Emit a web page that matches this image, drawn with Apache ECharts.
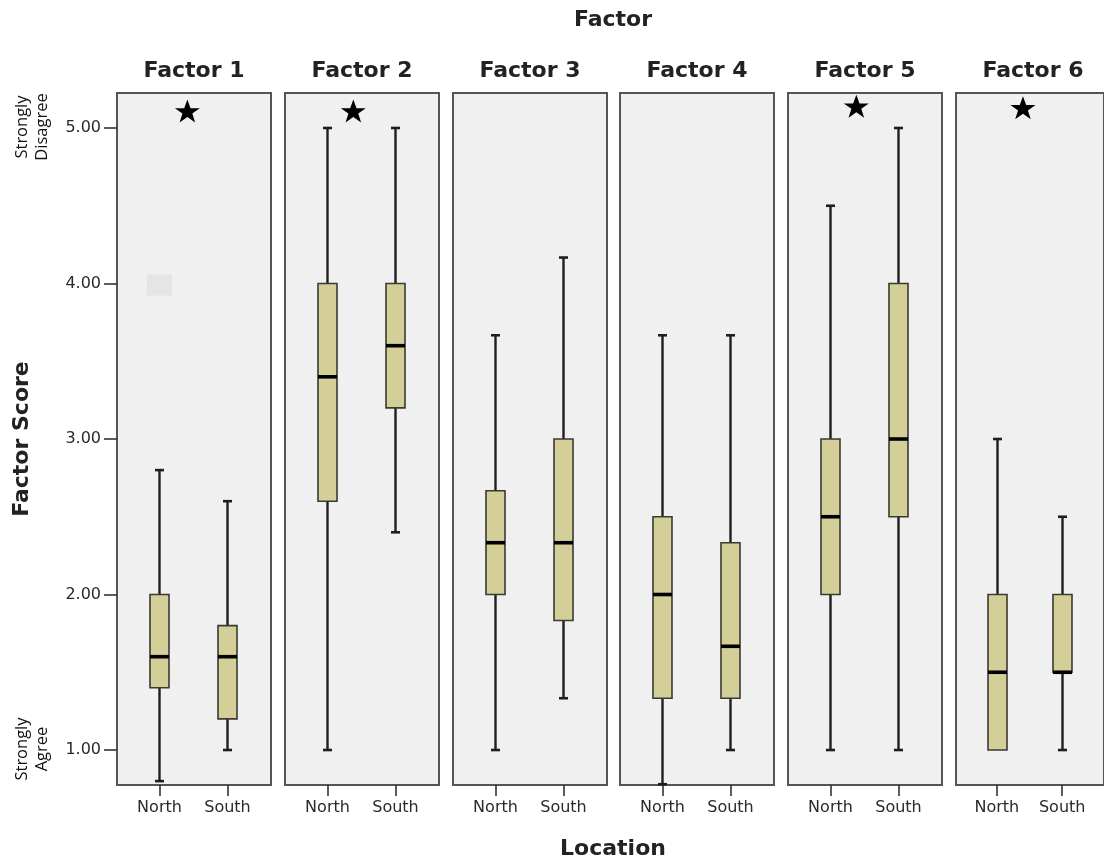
<!DOCTYPE html>
<html><head><meta charset="utf-8">
<script src="https://cdn.jsdelivr.net/npm/echarts@6/dist/echarts.min.js"></script>
<style>html,body{margin:0;padding:0;background:#fff}#c{width:1104px;height:861px}</style>
</head><body><div id="c"></div>
<script>
// ---------- data ----------
const factors = ['Factor 1', 'Factor 2', 'Factor 3', 'Factor 4', 'Factor 5', 'Factor 6'];
const locations = ['North', 'South'];
const yTickValues = [1, 2, 3, 4, 5];
// [min, Q1, median, Q3, max] per factor
const northStats = [
  [0.80, 1.40, 1.60, 2.00, 2.80],
  [1.00, 2.60, 3.40, 4.00, 5.00],
  [1.00, 2.00, 2.333, 2.667, 3.667],
  [0.78, 1.333, 2.00, 2.50, 3.667],
  [1.00, 2.00, 2.50, 3.00, 4.50],
  [1.00, 1.00, 1.50, 2.00, 3.00]
];
const southStats = [
  [1.00, 1.20, 1.60, 1.80, 2.60],
  [2.40, 3.20, 3.60, 4.00, 5.00],
  [1.333, 1.833, 2.333, 3.00, 4.167],
  [1.00, 1.333, 1.667, 2.333, 3.667],
  [1.00, 2.50, 3.00, 4.00, 5.00],
  [1.00, 1.50, 1.50, 2.00, 2.50]
];
// significance stars: [factor index, x (location units), y (score)]
const starMarks = [[0, 0.41, 5.11], [1, 0.38, 5.11], [4, 0.38, 5.14], [5, 0.40, 5.13]];
// faint grey marker in Factor 1 (blanked outlier)
const faintMarks = [[0, 0, 3.99]];

// ---------- layout ----------
const panelLeft0 = 117, panelStep = 167.8, panelW = 154, panelTop = 93, panelH = 692;
const xMin = -0.625, xMax = 1.64, yMin = 0.775, yMax = 5.225;
const STAR = 'path://M12,0 L14.9,8.1 L23.4,8.1 L16.5,13.1 L19.1,21.3 L12,16.3 L4.9,21.3 L7.5,13.1 L0.6,8.1 L9.1,8.1 Z';

function renderBox(params, api) {
  const x = api.value(0);
  const pMin = api.coord([x, api.value(1)]);
  const pQ1 = api.coord([x, api.value(2)]);
  const pMed = api.coord([x, api.value(3)]);
  const pQ3 = api.coord([x, api.value(4)]);
  const pMax = api.coord([x, api.value(5)]);
  const cx = Math.round(pMed[0]) + 0.5;
  const bw = 19, cw = 9;
  const ws = { stroke: '#1e1e1e', lineWidth: 2.4 };
  const children = [
    { type: 'line', shape: { x1: cx, y1: pMin[1], x2: cx, y2: pQ1[1] }, style: ws },
    { type: 'line', shape: { x1: cx, y1: pQ3[1], x2: cx, y2: pMax[1] }, style: ws }
  ];
  if (Math.abs(pMin[1] - pQ1[1]) > 1) {
    children.push({ type: 'line', shape: { x1: cx - cw / 2, y1: pMin[1], x2: cx + cw / 2, y2: pMin[1] }, style: { stroke: '#1e1e1e', lineWidth: 2.6 } });
  }
  if (Math.abs(pMax[1] - pQ3[1]) > 1) {
    children.push({ type: 'line', shape: { x1: cx - cw / 2, y1: pMax[1], x2: cx + cw / 2, y2: pMax[1] }, style: { stroke: '#1e1e1e', lineWidth: 2.6 } });
  }
  children.push(
    { type: 'rect', shape: { x: cx - bw / 2, y: pQ3[1], width: bw, height: pQ1[1] - pQ3[1] }, style: { fill: '#d4cf98', stroke: '#3a3a30', lineWidth: 1.6 } },
    { type: 'line', shape: { x1: cx - bw / 2, y1: pMed[1], x2: cx + bw / 2, y2: pMed[1] }, style: { stroke: '#000', lineWidth: 3.6 } }
  );
  return { type: 'group', children: children };
}

const grids = [], xAxes = [], yAxes = [], series = [], graphics = [];
const textColor = '#2a2a2a';
factors.forEach((f, i) => {
  const left = Math.round(panelLeft0 + i * panelStep);
  grids.push({ left: left, top: panelTop, width: panelW, height: panelH, show: true,
    backgroundColor: '#f0f0f0', borderColor: '#555', borderWidth: 2 });
  xAxes.push({
    type: 'value', gridIndex: i, min: xMin, max: xMax, position: 'bottom',
    axisLine: { show: false, onZero: false },
    splitLine: { show: false },
    axisTick: { show: true, customValues: [0, 1], length: 11, lineStyle: { color: '#333', width: 1.6 } },
    axisLabel: { show: true, customValues: [0, 1], formatter: v => locations[Math.round(v)] || '',
      margin: 15, fontSize: 16, color: textColor, fontFamily: 'DejaVu Sans' }
  });
  yAxes.push({
    type: 'value', gridIndex: i, min: yMin, max: yMax, position: 'left',
    show: i === 0,
    name: i === 0 ? 'Factor Score' : '',
    nameLocation: 'middle', nameGap: 84, nameRotate: 90,
    nameTextStyle: { fontSize: 22, fontWeight: 'bold', color: '#222', fontFamily: 'DejaVu Sans' },
    axisLine: { show: false, onZero: false },
    splitLine: { show: false },
    axisTick: { show: true, customValues: yTickValues, length: 13, lineStyle: { color: '#333', width: 1.6 } },
    axisLabel: { show: true, customValues: yTickValues, formatter: v => v.toFixed(2),
      margin: 16, fontSize: 16, color: textColor, fontFamily: 'DejaVu Sans' }
  });
  const faint = faintMarks.filter(m => m[0] === i).map(m => [m[1], m[2]]);
  if (faint.length) {
    series.push({ type: 'scatter', xAxisIndex: i, yAxisIndex: i, data: faint, symbol: 'rect',
      symbolSize: [25, 21], itemStyle: { color: '#e5e5e5', opacity: 1 }, silent: true, z: 1 });
  }
  series.push({
    type: 'custom', xAxisIndex: i, yAxisIndex: i,
    renderItem: renderBox,
    encode: { x: 0, y: [1, 2, 3, 4, 5] },
    data: [[0].concat(northStats[i]), [1].concat(southStats[i])],
    z: 2
  });
  const stars = starMarks.filter(m => m[0] === i).map(m => [m[1], m[2]]);
  if (stars.length) {
    series.push({ type: 'scatter', xAxisIndex: i, yAxisIndex: i, data: stars, symbol: STAR,
      symbolSize: [25, 23], itemStyle: { color: '#000', opacity: 1 }, silent: true, z: 3 });
  }
  graphics.push({ type: 'text', x: left + panelW / 2, y: 71,
    style: { text: f, fontSize: 22, fontWeight: 'bold', fill: '#222', fontFamily: 'DejaVu Sans',
      textAlign: 'center', textVerticalAlign: 'middle' } });
});

graphics.push({ type: 'text', x: 613, y: 20,
  style: { text: 'Factor', fontSize: 22, fontWeight: 'bold', fill: '#222', fontFamily: 'DejaVu Sans',
    textAlign: 'center', textVerticalAlign: 'middle' } });
graphics.push({ type: 'text', x: 613, y: 849,
  style: { text: 'Location', fontSize: 22, fontWeight: 'bold', fill: '#222', fontFamily: 'DejaVu Sans',
    textAlign: 'center', textVerticalAlign: 'middle' } });
graphics.push({ type: 'text', x: 32, y: 127, rotation: Math.PI / 2,
  style: { text: 'Strongly\nDisagree', fontSize: 16.5, lineHeight: 20, fill: '#111', fontFamily: 'Open Sans',
    textAlign: 'center', textVerticalAlign: 'middle' } });
graphics.push({ type: 'text', x: 32, y: 749, rotation: Math.PI / 2,
  style: { text: 'Strongly\nAgree', fontSize: 16.5, lineHeight: 20, fill: '#111', fontFamily: 'Open Sans',
    textAlign: 'center', textVerticalAlign: 'middle' } });

const chart = echarts.init(document.getElementById('c'), null, { renderer: 'canvas' });
chart.setOption({
  backgroundColor: '#ffffff',
  animation: false,
  grid: grids,
  xAxis: xAxes,
  yAxis: yAxes,
  series: series,
  graphic: graphics
});
</script>
</body></html>
